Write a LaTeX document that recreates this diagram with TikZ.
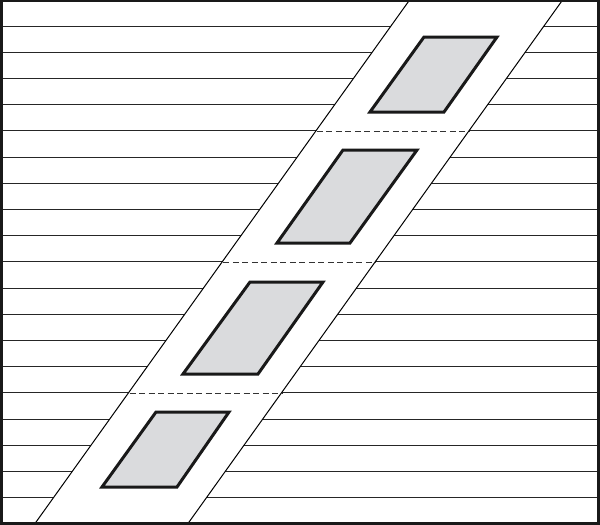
\documentclass[tikz,border=0pt]{standalone}
\usetikzlibrary{calc}
\definecolor{cellgray}{RGB}{218,219,221}
\tikzset{
  hline/.style={line width=1.2pt,black!85},
  bandedge/.style={line width=1pt,black},
  sep/.style={line width=1.2pt,black!80,dash pattern=on 6pt off 3.5pt},
  cell/.style={line width=3pt,fill=cellgray,draw=black!90,line join=miter},
  frame/.style={line width=2.2pt,black!90}
}
\begin{document}
\begin{tikzpicture}[x=1pt,y=-1pt]
\useasboundingbox (0,0) rectangle (600,525);
% horizontal lines
\foreach \k in {1,...,19}{
  \pgfmathsetmacro{\yy}{floor(26.2*\k)+0.5}
  \draw[hline] (2,\yy) -- (598,\yy);
}
% band
\begin{scope}
\clip (1.5,1) rectangle (598.5,523.5);
\fill[white] (411,-2) -- (564,-2) -- (186.2,526) -- (33.2,526) -- cycle;
\coordinate (LT) at (411,-2);
\coordinate (LB) at (33.2,526);
\coordinate (RT) at (564,-2);
\coordinate (RB) at (186.2,526);
\draw[bandedge] (LT) -- (LB);
\draw[bandedge] (RT) -- (RB);
\end{scope}
% dashed separators inside band
\foreach \yy in {131.5,262.5,393.5}{
  \draw[sep] ({411-0.715*\yy},\yy) -- ({564-0.715*\yy},\yy);
}
% cells
\draw[cell] (424,37) -- (497,37) -- (444,112) -- (370,112) -- cycle;
\draw[cell] (343,150) -- (417,150) -- (350,243) -- (277,243) -- cycle;
\draw[cell] (250,282) -- (323,282) -- (258,374) -- (183,374) -- cycle;
\draw[cell] (156,412) -- (229,412) -- (177,487) -- (102,487) -- cycle;
% frame
\draw[frame] (1.5,1) rectangle (598.5,523.5);
\end{tikzpicture}
\end{document}
